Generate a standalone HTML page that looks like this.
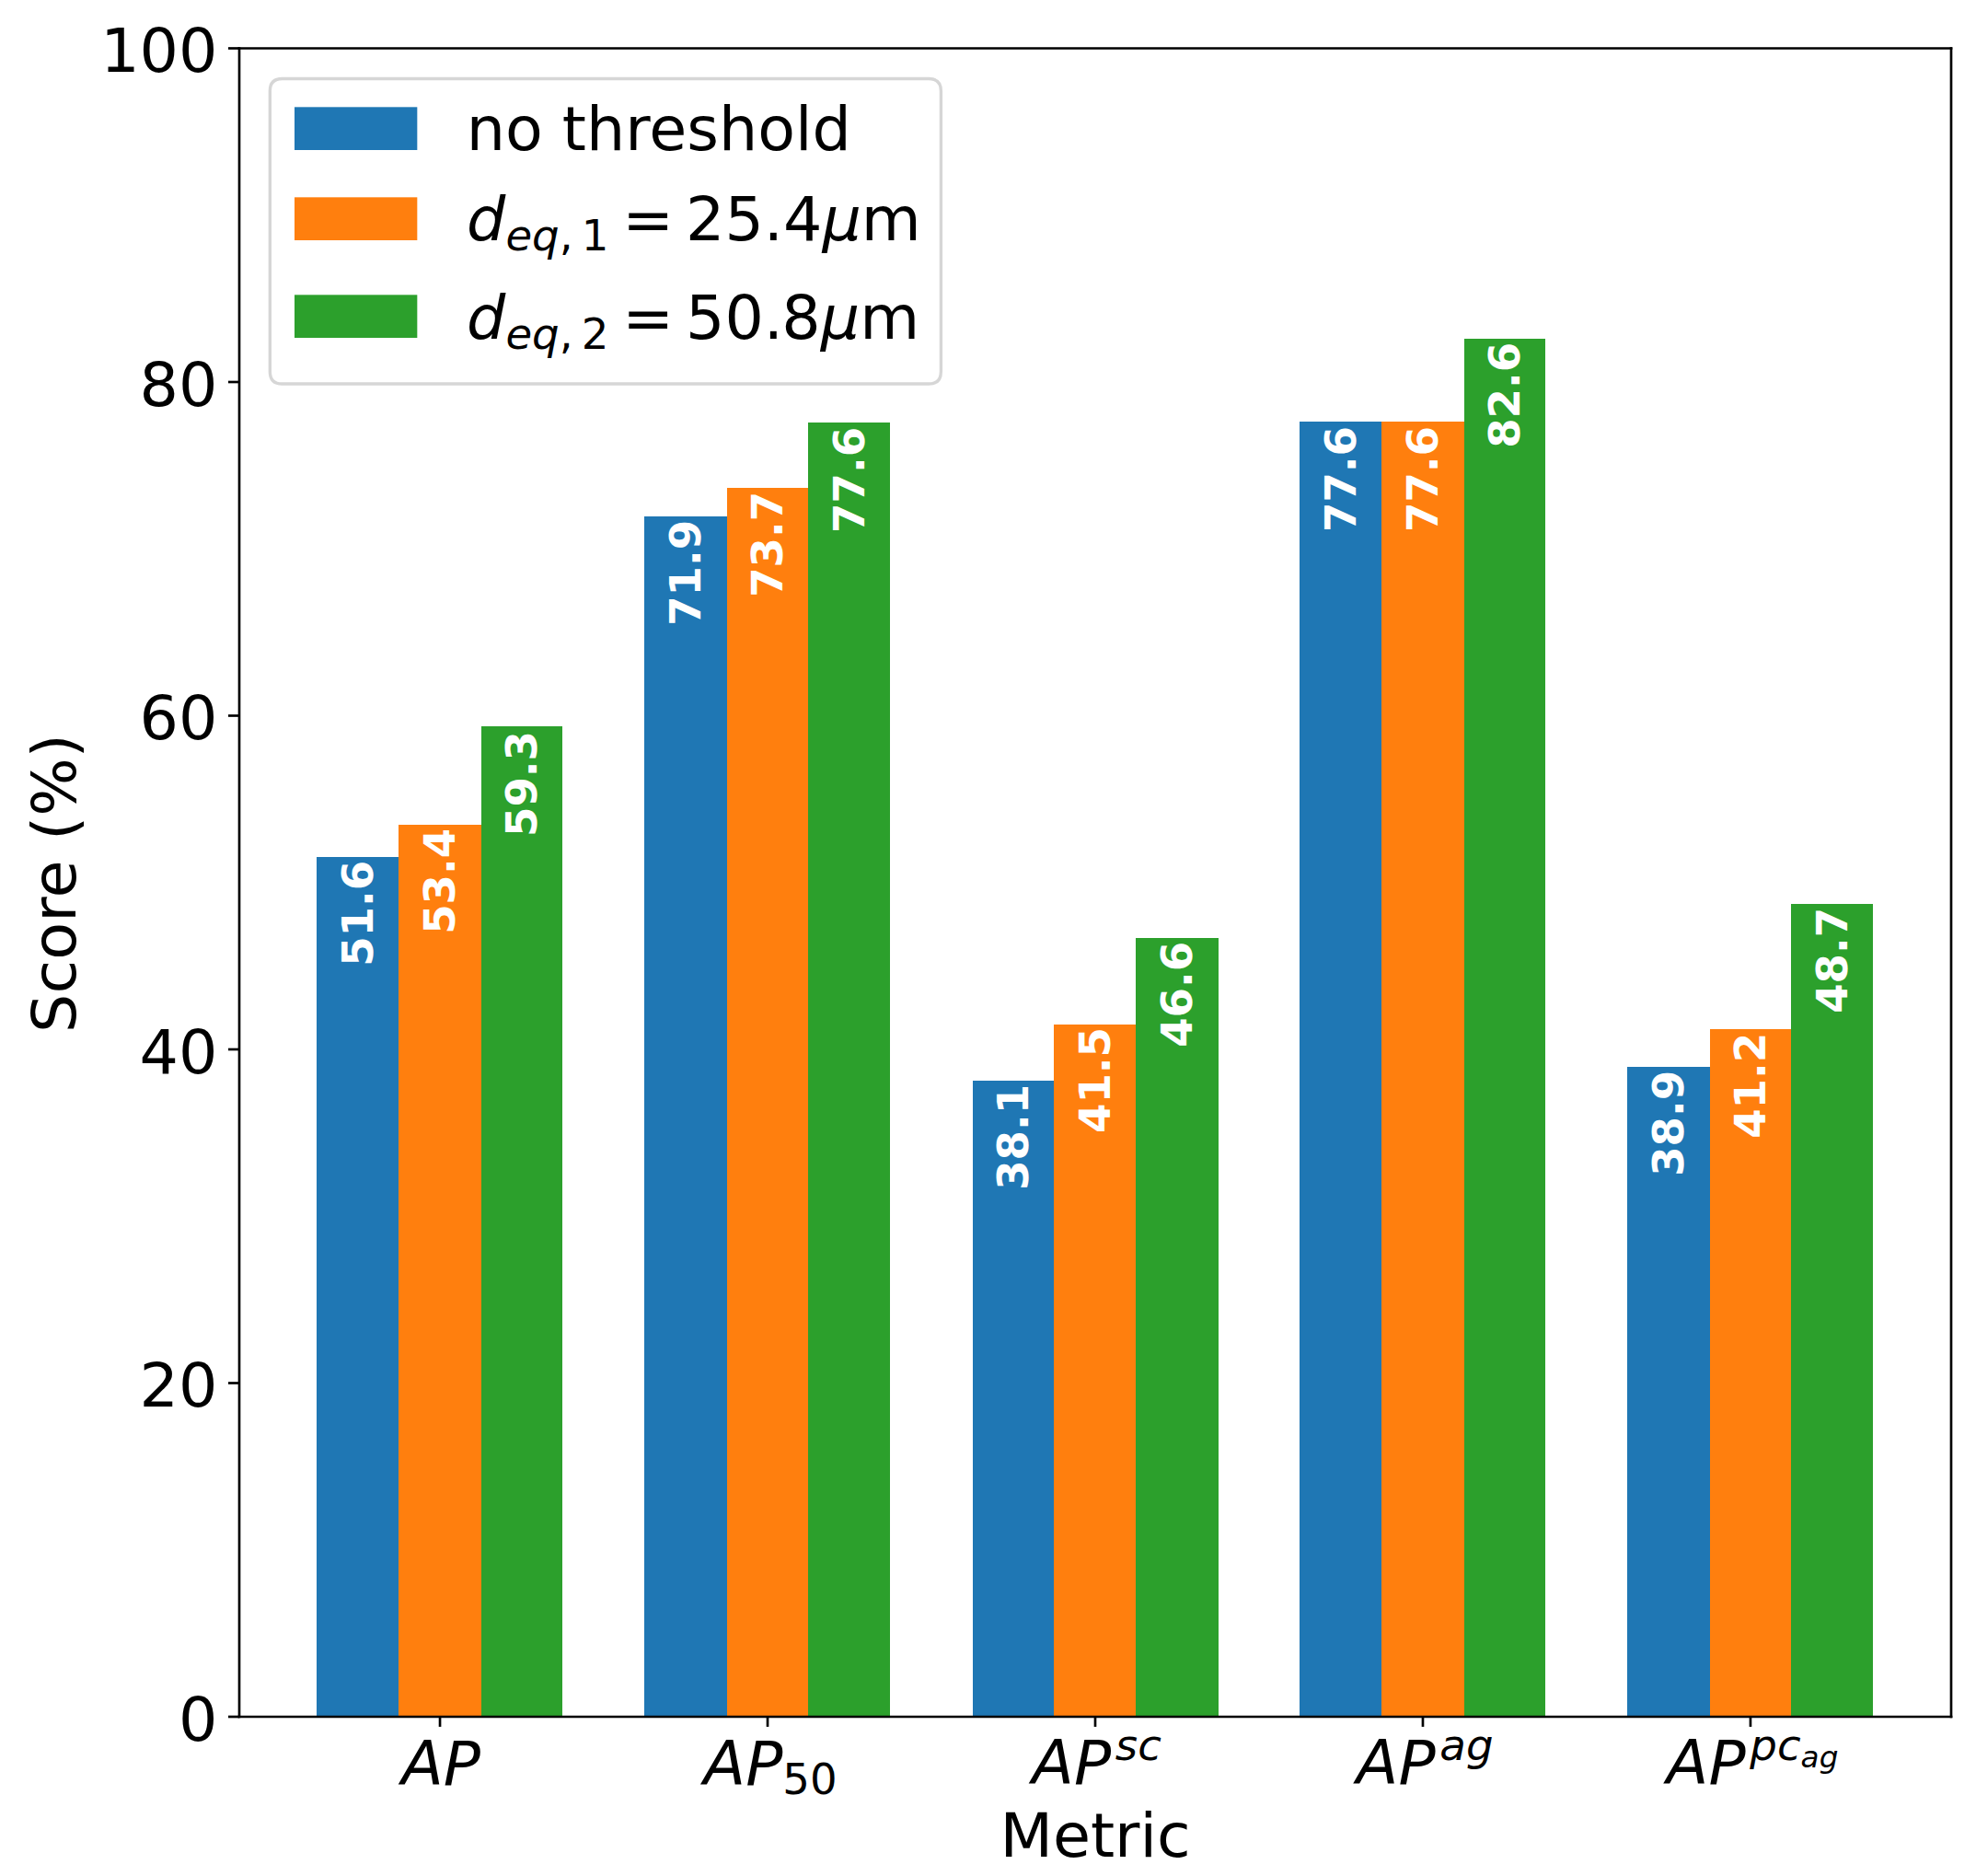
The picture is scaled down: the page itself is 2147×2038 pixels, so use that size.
<!DOCTYPE html>
<html><head><meta charset="utf-8"><title>Score by metric</title><style>html,body{margin:0;padding:0;background:#fff;}svg{display:block;}</style></head><body>
<svg width="2147" height="2038" viewBox="0 0 2147 2038">
<rect x="0" y="0" width="2147" height="2038" fill="#ffffff"/>
<rect x="344" y="931" width="89" height="934.00" fill="#1f77b4"/>
<rect x="433" y="896" width="90" height="969.00" fill="#ff7f0e"/>
<rect x="523" y="789" width="88" height="1076.00" fill="#2ca02c"/>
<rect x="700" y="561" width="90" height="1304.00" fill="#1f77b4"/>
<rect x="790" y="530" width="88" height="1335.00" fill="#ff7f0e"/>
<rect x="878" y="459" width="89" height="1406.00" fill="#2ca02c"/>
<rect x="1057" y="1174" width="88" height="691.00" fill="#1f77b4"/>
<rect x="1145" y="1113" width="89" height="752.00" fill="#ff7f0e"/>
<rect x="1234" y="1019" width="90" height="846.00" fill="#2ca02c"/>
<rect x="1412" y="458" width="89" height="1407.00" fill="#1f77b4"/>
<rect x="1501" y="458" width="90" height="1407.00" fill="#ff7f0e"/>
<rect x="1591" y="368" width="88" height="1497.00" fill="#2ca02c"/>
<rect x="1768" y="1159" width="90" height="706.00" fill="#1f77b4"/>
<rect x="1858" y="1118" width="88" height="747.00" fill="#ff7f0e"/>
<rect x="1946" y="982" width="89" height="883.00" fill="#2ca02c"/>
<text transform="translate(404.82 1049.87) rotate(-90)" font-family="'DejaVu Sans', 'Liberation Sans', sans-serif" font-weight="bold" font-size="46.667" fill="#ffffff">51.6</text>
<text transform="translate(493.82 1014.87) rotate(-90)" font-family="'DejaVu Sans', 'Liberation Sans', sans-serif" font-weight="bold" font-size="46.667" fill="#ffffff">53.4</text>
<text transform="translate(582.81 909.07) rotate(-90)" font-family="'DejaVu Sans', 'Liberation Sans', sans-serif" font-weight="bold" font-size="46.667" fill="#ffffff">59.3</text>
<text transform="translate(760.80 679.87) rotate(-90)" font-family="'DejaVu Sans', 'Liberation Sans', sans-serif" font-weight="bold" font-size="46.667" fill="#ffffff">71.9</text>
<text transform="translate(849.80 648.87) rotate(-90)" font-family="'DejaVu Sans', 'Liberation Sans', sans-serif" font-weight="bold" font-size="46.667" fill="#ffffff">73.7</text>
<text transform="translate(938.79 578.97) rotate(-90)" font-family="'DejaVu Sans', 'Liberation Sans', sans-serif" font-weight="bold" font-size="46.667" fill="#ffffff">77.6</text>
<text transform="translate(1116.78 1292.87) rotate(-90)" font-family="'DejaVu Sans', 'Liberation Sans', sans-serif" font-weight="bold" font-size="46.667" fill="#ffffff">38.1</text>
<text transform="translate(1205.78 1231.07) rotate(-90)" font-family="'DejaVu Sans', 'Liberation Sans', sans-serif" font-weight="bold" font-size="46.667" fill="#ffffff">41.5</text>
<text transform="translate(1294.78 1137.87) rotate(-90)" font-family="'DejaVu Sans', 'Liberation Sans', sans-serif" font-weight="bold" font-size="46.667" fill="#ffffff">46.6</text>
<text transform="translate(1472.77 578.07) rotate(-90)" font-family="'DejaVu Sans', 'Liberation Sans', sans-serif" font-weight="bold" font-size="46.667" fill="#ffffff">77.6</text>
<text transform="translate(1561.76 578.07) rotate(-90)" font-family="'DejaVu Sans', 'Liberation Sans', sans-serif" font-weight="bold" font-size="46.667" fill="#ffffff">77.6</text>
<text transform="translate(1650.76 486.87) rotate(-90)" font-family="'DejaVu Sans', 'Liberation Sans', sans-serif" font-weight="bold" font-size="46.667" fill="#ffffff">82.6</text>
<text transform="translate(1828.75 1277.87) rotate(-90)" font-family="'DejaVu Sans', 'Liberation Sans', sans-serif" font-weight="bold" font-size="46.667" fill="#ffffff">38.9</text>
<text transform="translate(1917.74 1236.87) rotate(-90)" font-family="'DejaVu Sans', 'Liberation Sans', sans-serif" font-weight="bold" font-size="46.667" fill="#ffffff">41.2</text>
<text transform="translate(2006.74 1100.87) rotate(-90)" font-family="'DejaVu Sans', 'Liberation Sans', sans-serif" font-weight="bold" font-size="46.667" fill="#ffffff">48.7</text>
<path d="M 260.0 1865.0 L 260.0 52.5" stroke="#000" stroke-width="2.667" stroke-linecap="square" fill="none"/>
<path d="M 2120.0 1865.0 L 2120.0 52.5" stroke="#000" stroke-width="2.667" stroke-linecap="square" fill="none"/>
<path d="M 260.0 1865.0 L 2120.0 1865.0" stroke="#000" stroke-width="2.667" stroke-linecap="square" fill="none"/>
<path d="M 260.0 52.5 L 2120.0 52.5" stroke="#000" stroke-width="2.667" stroke-linecap="square" fill="none"/>
<path d="M 260.0 1865.00 L 248.000 1865.00" stroke="#000" stroke-width="2.667" fill="none"/>
<text x="236.367" y="1890.73" font-family="'DejaVu Sans', 'Liberation Sans', sans-serif" font-size="66.667" text-anchor="end" fill="#000">0</text>
<path d="M 260.0 1502.50 L 248.000 1502.50" stroke="#000" stroke-width="2.667" fill="none"/>
<text x="236.367" y="1528.23" font-family="'DejaVu Sans', 'Liberation Sans', sans-serif" font-size="66.667" text-anchor="end" fill="#000">20</text>
<path d="M 260.0 1140.00 L 248.000 1140.00" stroke="#000" stroke-width="2.667" fill="none"/>
<text x="236.367" y="1165.73" font-family="'DejaVu Sans', 'Liberation Sans', sans-serif" font-size="66.667" text-anchor="end" fill="#000">40</text>
<path d="M 260.0 777.50 L 248.000 777.50" stroke="#000" stroke-width="2.667" fill="none"/>
<text x="236.367" y="803.23" font-family="'DejaVu Sans', 'Liberation Sans', sans-serif" font-size="66.667" text-anchor="end" fill="#000">60</text>
<path d="M 260.0 415.00 L 248.000 415.00" stroke="#000" stroke-width="2.667" fill="none"/>
<text x="236.367" y="440.73" font-family="'DejaVu Sans', 'Liberation Sans', sans-serif" font-size="66.667" text-anchor="end" fill="#000">80</text>
<path d="M 260.0 52.50 L 248.000 52.50" stroke="#000" stroke-width="2.667" fill="none"/>
<text x="236.367" y="78.23" font-family="'DejaVu Sans', 'Liberation Sans', sans-serif" font-size="66.667" text-anchor="end" fill="#000">100</text>
<path d="M 478.04 1865.0 L 478.04 1875.900" stroke="#000" stroke-width="2.667" fill="none"/>
<path d="M 834.02 1865.0 L 834.02 1875.900" stroke="#000" stroke-width="2.667" fill="none"/>
<path d="M 1190.00 1865.0 L 1190.00 1875.900" stroke="#000" stroke-width="2.667" fill="none"/>
<path d="M 1545.98 1865.0 L 1545.98 1875.900" stroke="#000" stroke-width="2.667" fill="none"/>
<path d="M 1901.96 1865.0 L 1901.96 1875.900" stroke="#000" stroke-width="2.667" fill="none"/>
<text transform="translate(436.14 1938.99)" font-family="'DejaVu Sans', 'Liberation Sans', sans-serif" fill="#000"><tspan x="0.00" y="-1.41" font-size="66.667" font-style="oblique">A</tspan><tspan x="45.61" y="-0.41" font-size="66.667" font-style="oblique">P</tspan></text>
<text transform="translate(764.55 1938.99)" font-family="'DejaVu Sans', 'Liberation Sans', sans-serif" fill="#000"><tspan x="0.00" y="-1.41" font-size="66.667" font-style="oblique">A</tspan><tspan x="45.61" y="-0.41" font-size="66.667" font-style="oblique">P</tspan><tspan x="85.81" y="9.53" font-size="46.667">5</tspan><tspan x="115.50" y="9.53" font-size="46.667">0</tspan></text>
<text transform="translate(1121.37 1938.99)" font-family="'DejaVu Sans', 'Liberation Sans', sans-serif" fill="#000"><tspan x="0.00" y="-1.67" font-size="66.667" font-style="oblique">A</tspan><tspan x="45.61" y="-0.67" font-size="66.667" font-style="oblique">P</tspan><tspan x="90.48" y="-27.19" font-size="46.667" font-style="oblique">s</tspan><tspan x="114.80" y="-27.19" font-size="46.667" font-style="oblique">c</tspan></text>
<text transform="translate(1473.85 1938.99)" font-family="'DejaVu Sans', 'Liberation Sans', sans-serif" fill="#000"><tspan x="0.00" y="-1.67" font-size="66.667" font-style="oblique">A</tspan><tspan x="45.61" y="-0.67" font-size="66.667" font-style="oblique">P</tspan><tspan x="90.48" y="-27.19" font-size="46.667" font-style="oblique">a</tspan><tspan x="119.08" y="-27.19" font-size="46.667" font-style="oblique">g</tspan></text>
<text transform="translate(1810.86 1938.99)" font-family="'DejaVu Sans', 'Liberation Sans', sans-serif" fill="#000"><tspan x="0.00" y="-1.67" font-size="66.667" font-style="oblique">A</tspan><tspan x="45.61" y="-0.67" font-size="66.667" font-style="oblique">P</tspan><tspan x="90.48" y="-27.19" font-size="46.667" font-style="oblique">p</tspan><tspan x="120.11" y="-27.19" font-size="46.667" font-style="oblique">c</tspan><tspan x="145.76" y="-18.54" font-size="32.667" font-style="oblique">a</tspan><tspan x="165.78" y="-18.54" font-size="32.667" font-style="oblique">g</tspan></text>
<text x="1190.0" y="2016.84" font-family="'DejaVu Sans', 'Liberation Sans', sans-serif" font-size="66.667" text-anchor="middle" fill="#000">Metric</text>
<text transform="translate(81.62 959.60) rotate(-90)" font-family="'DejaVu Sans', 'Liberation Sans', sans-serif" font-size="66.667" text-anchor="middle" textLength="324.93" lengthAdjust="spacing" fill="#000">Score (%)</text>
<path d="M 306.67 417.00 L 1009.07 417.00 Q 1022.40 417.00 1022.40 403.67 L 1022.40 98.83 Q 1022.40 85.50 1009.07 85.50 L 306.67 85.50 Q 293.33 85.50 293.33 98.83 L 293.33 403.67 Q 293.33 417.00 306.67 417.00 z" fill="#ffffff" fill-opacity="0.8" stroke="#cccccc" stroke-opacity="0.8" stroke-width="3.333" stroke-linejoin="miter"/>
<rect x="320" y="116.33" width="133.33" height="46.67" fill="#1f77b4"/>
<rect x="320" y="214.33" width="133.33" height="46.67" fill="#ff7f0e"/>
<rect x="320" y="320.33" width="133.33" height="46.67" fill="#2ca02c"/>
<text x="506.67" y="163.00" font-family="'DejaVu Sans', 'Liberation Sans', sans-serif" font-size="66.667" fill="#000">no threshold</text>
<text transform="translate(507.07 263.90)" font-family="'DejaVu Sans', 'Liberation Sans', sans-serif" fill="#000"><tspan x="0.00" y="-2.66" font-size="66.667" font-style="oblique">d</tspan><tspan x="42.32" y="8.28" font-size="46.667" font-style="oblique">e</tspan><tspan x="71.03" y="8.28" font-size="46.667" font-style="oblique">q</tspan><tspan x="100.65" y="8.28" font-size="46.667">,</tspan><tspan x="124.58" y="8.28" font-size="46.667">1</tspan><tspan x="169.08" y="-2.66" font-size="66.667">=</tspan><tspan x="237.93" y="-2.66" font-size="66.667">2</tspan><tspan x="280.34" y="-2.66" font-size="66.667">5</tspan><tspan x="322.76" y="-2.66" font-size="66.667">.</tspan><tspan x="343.95" y="-2.66" font-size="66.667">4</tspan><tspan x="386.36" y="-2.66" font-size="66.667" font-style="oblique">μ</tspan><tspan x="428.78" y="-2.66" font-size="66.667">m</tspan></text>
<text transform="translate(507.07 371.00)" font-family="'DejaVu Sans', 'Liberation Sans', sans-serif" fill="#000"><tspan x="0.00" y="-2.66" font-size="66.667" font-style="oblique">d</tspan><tspan x="42.32" y="8.28" font-size="46.667" font-style="oblique">e</tspan><tspan x="71.03" y="8.28" font-size="46.667" font-style="oblique">q</tspan><tspan x="100.65" y="8.28" font-size="46.667">,</tspan><tspan x="124.58" y="8.28" font-size="46.667">2</tspan><tspan x="169.08" y="-2.66" font-size="66.667">=</tspan><tspan x="237.93" y="-2.66" font-size="66.667">5</tspan><tspan x="280.34" y="-2.66" font-size="66.667">0</tspan><tspan x="322.76" y="-2.66" font-size="66.667">.</tspan><tspan x="342.28" y="-2.66" font-size="66.667">8</tspan><tspan x="384.70" y="-2.66" font-size="66.667" font-style="oblique">μ</tspan><tspan x="427.11" y="-2.66" font-size="66.667">m</tspan></text>
</svg>
</body></html>
